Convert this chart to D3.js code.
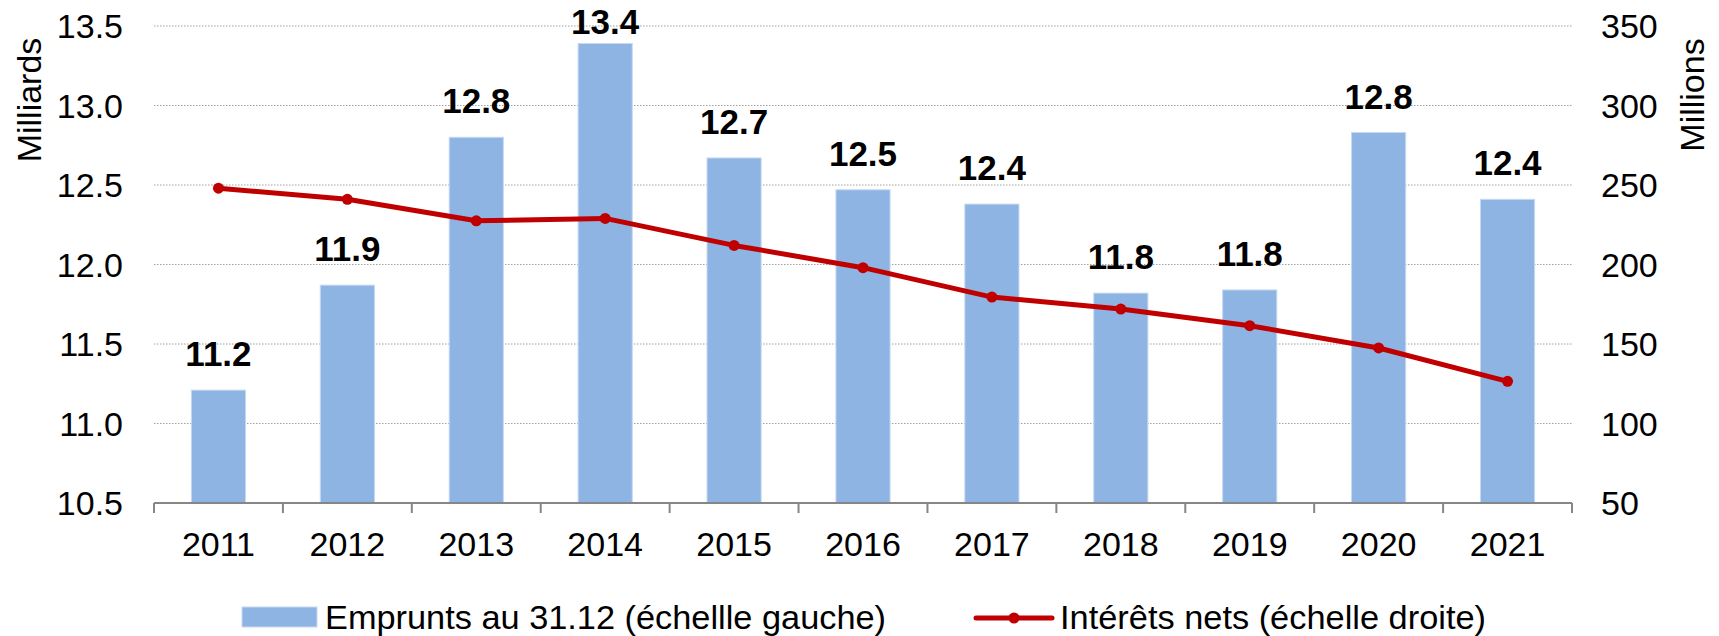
<!doctype html>
<html lang="fr">
<head>
<meta charset="UTF-8">
<title>Emprunts et intérêts nets</title>
<script src="https://d3js.org/d3.v7.min.js"></script>
<style>
  html, body { margin: 0; padding: 0; background: #fff; }
  svg { display: block; font-family: 'Liberation Sans', Arial, sans-serif; }
</style>
</head>
<body>
<svg width="1719" height="636"></svg>
<script>
  const years = ['2011', '2012', '2013', '2014', '2015', '2016', '2017', '2018', '2019', '2020', '2021']
  const emprunts = [11.21, 11.87, 12.80, 13.39, 12.67, 12.47, 12.38, 11.82, 11.84, 12.83, 12.41]
  const interets = [248, 241, 227.5, 229, 212, 198, 179.5, 172, 161.5, 147.5, 126.5]
  const leftTicks = [10.5, 11.0, 11.5, 12.0, 12.5, 13.0, 13.5]
  const rightTicks = [50, 100, 150, 200, 250, 300, 350]
  const legendLabels = ['Emprunts au 31.12 (échellle gauche)', 'Intérêts nets (échelle droite)']

  const svg = d3.select('svg')
  const plotLeft = 154, plotRight = 1572, plotTop = 26, plotBottom = 503
  const fs = 34

  const x = d3.scaleBand()
    .domain(years)
    .range([plotLeft, plotRight])
    .paddingInner(0.58)
    .paddingOuter(0.29)

  const yL = d3.scaleLinear().domain([10.5, 13.5]).range([plotBottom, plotTop])
  const yR = d3.scaleLinear().domain([50, 350]).range([plotBottom, plotTop])

  // gridlines
  svg.append('g')
    .selectAll('line')
    .data(leftTicks.slice(1))
    .enter()
    .append('line')
    .attr('x1', plotLeft).attr('x2', plotRight)
    .attr('y1', d => yL(d)).attr('y2', d => yL(d))
    .attr('stroke', '#a0a0a0')
    .attr('stroke-width', 1)
    .attr('stroke-dasharray', '1.5,1.5')

  // bars
  svg.append('g')
    .selectAll('rect')
    .data(emprunts)
    .enter()
    .append('rect')
    .attr('x', (d, i) => x(years[i]))
    .attr('y', d => yL(d))
    .attr('width', x.bandwidth())
    .attr('height', d => plotBottom - yL(d))
    .attr('fill', '#8eb4e3')
    .attr('stroke', '#c6d9f1')
    .attr('stroke-width', 1)

  // bottom axis
  const step = x.step()
  svg.append('line')
    .attr('x1', plotLeft).attr('x2', plotRight)
    .attr('y1', plotBottom).attr('y2', plotBottom)
    .attr('stroke', '#868686').attr('stroke-width', 2)
  svg.append('g')
    .selectAll('line')
    .data(d3.range(years.length + 1))
    .enter()
    .append('line')
    .attr('x1', i => plotLeft + i * step).attr('x2', i => plotLeft + i * step)
    .attr('y1', plotBottom).attr('y2', plotBottom + 10)
    .attr('stroke', '#868686').attr('stroke-width', 2)

  svg.append('g')
    .selectAll('text')
    .data(years)
    .enter()
    .append('text')
    .attr('x', d => x(d) + x.bandwidth() / 2)
    .attr('y', 556)
    .attr('text-anchor', 'middle')
    .attr('font-size', fs)
    .text(d => d)

  // left ticks
  svg.append('g')
    .selectAll('text')
    .data(leftTicks)
    .enter()
    .append('text')
    .attr('x', 123)
    .attr('y', d => yL(d) + 12)
    .attr('text-anchor', 'end')
    .attr('font-size', fs)
    .text(d => d3.format('.1f')(d))

  // right ticks
  svg.append('g')
    .selectAll('text')
    .data(rightTicks)
    .enter()
    .append('text')
    .attr('x', 1601)
    .attr('y', d => yR(d) + 12)
    .attr('font-size', fs)
    .text(d => d)

  // axis titles
  svg.append('text')
    .attr('transform', 'translate(41,100) rotate(-90)')
    .attr('text-anchor', 'middle')
    .attr('font-size', fs)
    .text('Milliards')
  svg.append('text')
    .attr('transform', 'translate(1704,95) rotate(-90)')
    .attr('text-anchor', 'middle')
    .attr('font-size', fs)
    .text('Millions')

  // bar labels
  svg.append('g')
    .selectAll('text')
    .data(emprunts)
    .enter()
    .append('text')
    .attr('x', (d, i) => x(years[i]) + x.bandwidth() / 2)
    .attr('y', d => Math.max(yL(d) - 24, 34))
    .attr('text-anchor', 'middle')
    .attr('font-size', 35)
    .attr('font-weight', 'bold')
    .text(d => d3.format('.1f')(d))

  // line
  const line = d3.line()
    .x((d, i) => x(years[i]) + x.bandwidth() / 2)
    .y(d => yR(d))

  svg.append('path')
    .datum(interets)
    .attr('d', line)
    .attr('fill', 'none')
    .attr('stroke', '#c00000')
    .attr('stroke-width', 5)
    .attr('stroke-linejoin', 'round')

  svg.append('g')
    .selectAll('circle')
    .data(interets)
    .enter()
    .append('circle')
    .attr('cx', (d, i) => x(years[i]) + x.bandwidth() / 2)
    .attr('cy', d => yR(d))
    .attr('r', 5.5)
    .attr('fill', '#c00000')

  // legend
  const legend = svg.append('g')
  legend.append('rect')
    .attr('x', 242).attr('y', 607)
    .attr('width', 75).attr('height', 20)
    .attr('fill', '#8eb4e3')
    .attr('stroke', '#c6d9f1')
  legend.append('text')
    .attr('x', 325).attr('y', 629)
    .attr('font-size', fs)
    .attr('textLength', 561)
    .attr('lengthAdjust', 'spacingAndGlyphs')
    .text(legendLabels[0])
  legend.append('line')
    .attr('x1', 976).attr('x2', 1052)
    .attr('y1', 618).attr('y2', 618)
    .attr('stroke', '#c00000')
    .attr('stroke-width', 5)
    .attr('stroke-linecap', 'round')
  legend.append('circle')
    .attr('cx', 1014).attr('cy', 618)
    .attr('r', 5.5)
    .attr('fill', '#c00000')
  legend.append('text')
    .attr('x', 1060).attr('y', 629)
    .attr('font-size', fs)
    .attr('textLength', 426)
    .attr('lengthAdjust', 'spacingAndGlyphs')
    .text(legendLabels[1])
</script>
</body>
</html>
